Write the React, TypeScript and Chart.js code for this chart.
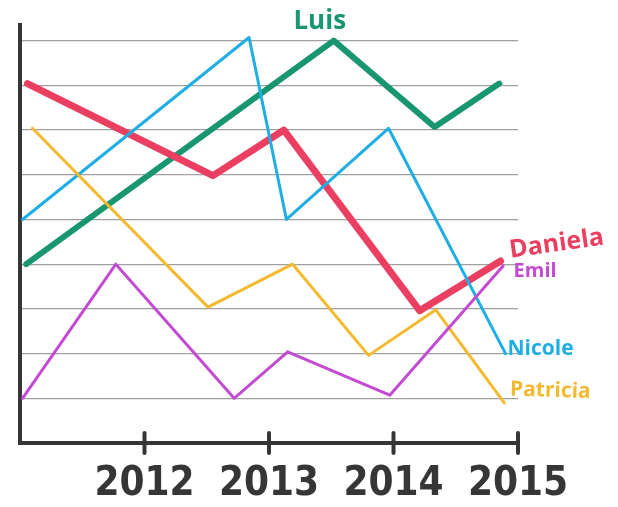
import React, { useEffect, useRef } from "react";
import { Chart, registerables } from "chart.js";

Chart.register(...registerables);

// ---- data ----
const seriesNames = ["Luis", "Nicole", "Daniela", "Patricia", "Emil"];

const luisYears = [2011.05, 2013.52, 2014.33, 2014.85];
const luisValues = [4.0, 9.0, 7.07, 8.04];

const nicoleYears = [2011.02, 2012.84, 2013.14, 2013.96, 2014.9];
const nicoleValues = [5.0, 9.07, 5.0, 7.04, 2.0];

const danielaYears = [2011.06, 2012.55, 2013.12, 2014.21, 2014.86];
const danielaValues = [8.04, 5.98, 7.0, 2.96, 4.07];

const patriciaYears = [2011.1, 2012.51, 2013.19, 2013.8, 2014.34, 2014.89];
const patriciaValues = [7.04, 3.04, 4.0, 1.96, 2.98, 0.9];

const emilYears = [2011.02, 2011.77, 2012.72, 2013.15, 2013.97, 2014.88];
const emilValues = [1.0, 4.0, 1.0, 2.04, 1.07, 3.96];

const xTickYears = [2012, 2013, 2014, 2015];
const yGridValues = [1, 2, 3, 4, 5, 6, 7, 8, 9];

const pts = (xs: number[], ys: number[]) => xs.map((x, i) => ({ x, y: ys[i] }));

// ---- styles ----
const colors: Record<string, string> = {
  Luis: "#179670",
  Nicole: "#1eaee3",
  Daniela: "#ea3f60",
  Patricia: "#f3b92f",
  Emil: "#c24bd2",
};
const widths: Record<string, number> = {
  Luis: 6,
  Nicole: 3,
  Daniela: 7,
  Patricia: 3,
  Emil: 3,
};

// label placement: which point to anchor at, pixel offset, font size, rotation
const labelCfg: Record<string, { anchor: "max" | "last"; dx: number; dy: number; size: number; rot: number }> = {
  Luis: { anchor: "max", dx: -14, dy: -19, size: 26, rot: 0 },
  Daniela: { anchor: "last", dx: 56, dy: -17, size: 25, rot: -0.14 },
  Emil: { anchor: "last", dx: 32, dy: 5, size: 20, rot: 0 },
  Nicole: { anchor: "last", dx: 35, dy: -5, size: 21, rot: 0 },
  Patricia: { anchor: "last", dx: 46, dy: -12, size: 21, rot: 0.03 },
};

const AXIS_COLOR = "#363636";

const labelsPlugin = {
  id: "seriesLabels",
  afterDatasetsDraw(chart: any) {
    const ctx = chart.ctx;
    chart.data.datasets.forEach((ds: any, di: number) => {
      const cfg = labelCfg[ds.label];
      if (!cfg) return;
      const meta = chart.getDatasetMeta(di);
      let idx = meta.data.length - 1;
      if (cfg.anchor === "max") {
        let best = -Infinity;
        ds.data.forEach((p: any, i: number) => {
          if (p.y > best) {
            best = p.y;
            idx = i;
          }
        });
      }
      const el = meta.data[idx];
      ctx.save();
      ctx.translate(el.x + cfg.dx, el.y + cfg.dy);
      ctx.rotate(cfg.rot);
      ctx.fillStyle = ds.borderColor;
      ctx.font = `bold ${cfg.size}px 'Open Sans', 'DejaVu Sans', sans-serif`;
      ctx.textAlign = "center";
      ctx.textBaseline = "middle";
      ctx.fillText(ds.label, 0, 0);
      ctx.restore();
    });
  },
};

const tickMarksPlugin = {
  id: "crossTicks",
  afterDraw(chart: any) {
    const ctx = chart.ctx;
    const x = chart.scales.x;
    const bottom = chart.chartArea.bottom;
    ctx.save();
    ctx.strokeStyle = AXIS_COLOR;
    ctx.lineWidth = 4;
    ctx.lineCap = "round";
    xTickYears.forEach((yr) => {
      const px = x.getPixelForValue(yr);
      ctx.beginPath();
      ctx.moveTo(px, bottom - 10);
      ctx.lineTo(px, bottom + 10);
      ctx.stroke();
    });
    ctx.restore();
  },
};

export default function App() {
  const ref = useRef<HTMLCanvasElement | null>(null);

  useEffect(() => {
    if (!ref.current) return;
    const seriesData: Record<string, { x: number; y: number }[]> = {
      Luis: pts(luisYears, luisValues),
      Nicole: pts(nicoleYears, nicoleValues),
      Daniela: pts(danielaYears, danielaValues),
      Patricia: pts(patriciaYears, patriciaValues),
      Emil: pts(emilYears, emilValues),
    };
    const drawOrder = ["Emil", "Patricia", "Nicole", "Daniela", "Luis"];
    const chart = new Chart(ref.current, {
      type: "line",
      data: {
        datasets: drawOrder
          .filter((n) => seriesNames.includes(n))
          .map((name) => ({
            label: name,
            data: seriesData[name],
            borderColor: colors[name],
            backgroundColor: colors[name],
            borderWidth: widths[name],
            borderJoinStyle: "round" as const,
            borderCapStyle: "round" as const,
            pointRadius: 0,
            tension: 0,
            fill: false,
            clip: false as any,
          })),
      },
      options: {
        animation: false,
        responsive: false,
        maintainAspectRatio: false,
        layout: { padding: { left: 20, right: 100, top: 25, bottom: 2 } },
        plugins: {
          legend: { display: false },
          tooltip: { enabled: false },
        },
        scales: {
          x: {
            type: "linear",
            min: 2011,
            max: 2015,
            afterBuildTicks: (scale: any) => {
              scale.ticks = xTickYears.map((v) => ({ value: v }));
            },
            afterFit: (scale: any) => {
              scale.height = 62;
            },
            grid: { display: false, drawTicks: false },
            border: { display: true, color: AXIS_COLOR, width: 4 },
            ticks: {
              padding: 22,
              color: AXIS_COLOR,
              maxRotation: 0,
              autoSkip: false,
              font: {
                family: "'DejaVu Sans Condensed', 'Liberation Sans Narrow', 'DejaVu Sans', sans-serif",
                size: 40,
                weight: "bold",
                lineHeight: 1,
              },
              callback: (v: any) => String(v),
            },
          },
          y: {
            type: "linear",
            min: 0,
            max: 9.35,
            afterBuildTicks: (scale: any) => {
              scale.ticks = yGridValues.map((v) => ({ value: v }));
            },
            grid: { color: "#a0a0a0", lineWidth: 1.2, drawTicks: false },
            border: { display: true, color: AXIS_COLOR, width: 4 },
            ticks: { display: false },
          },
        },
      },
      plugins: [labelsPlugin, tickMarksPlugin],
    });
    return () => chart.destroy();
  }, []);

  return (
    <div style={{ position: "fixed", left: 0, top: 0, width: 618, height: 507, background: "#fff" }}>
      <canvas ref={ref} width={618} height={507} style={{ width: 618, height: 507 }} />
    </div>
  );
}
